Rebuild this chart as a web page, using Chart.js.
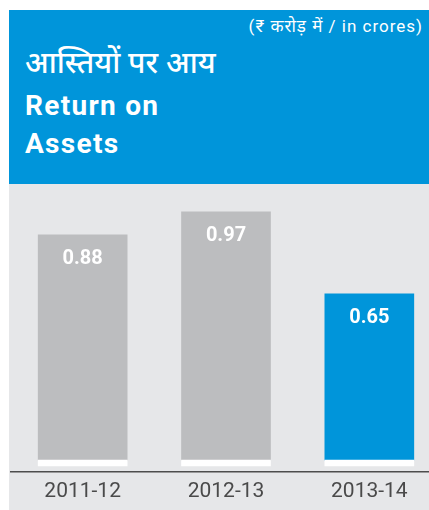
<!DOCTYPE html>
<html>
<head>
<meta charset="utf-8">
<script src="https://cdn.jsdelivr.net/npm/chart.js@4.4.1/dist/chart.umd.min.js"></script>
<style>
  body { margin: 0; background: #fff; width: 429px; height: 510px; overflow: hidden; }
  .panel { position: absolute; left: 9px; top: 10px; width: 420px; height: 500px; background: #E6E7E9; overflow: hidden; }
  .header { position: absolute; left: 0; top: 0; width: 420px; height: 174px; background: #0095DA; color: #fff; font-family: Roboto, 'Noto Sans', sans-serif; }
  .unit { position: absolute; right: 6px; top: 8px; font-size: 17px; line-height: 17px; letter-spacing: 1px; }
  .hindi { position: absolute; left: 16px; top: 34px; font-size: 30px; line-height: 36px; font-weight: 500; font-family: 'Noto Sans', sans-serif; }
  .title { position: absolute; left: 16px; font-size: 28px; line-height: 28px; font-weight: bold; letter-spacing: 1.3px; }
  .chart-box { position: absolute; left: 0; top: 174px; width: 420px; height: 326px; overflow: hidden; }
</style>
</head>
<body>
<div class="panel">
  <div class="header">
    <div class="unit">(₹ करोड़ में / in crores)</div>
    <div class="hindi">आस्तियों पर आय</div>
    <div class="title" style="top: 82px;">Return on</div>
    <div class="title" style="top: 120px;">Assets</div>
  </div>
  <div class="chart-box">
    <canvas id="roaChart" width="432" height="326"></canvas>
  </div>
</div>
<script>
// ===== DATOS =====
const categories = ['2011-12', '2012-13', '2013-14'];
const roaValues = [0.88, 0.97, 0.65];
const barColors = ['#BCBDBF', '#BCBDBF', '#0095DA'];
// franja blanca al pie de cada barra
const baseBand = [0.023, 0.023, 0.023];

// etiquetas blancas dentro de cada barra
const valueLabels = {
  id: 'valueLabels',
  afterDatasetsDraw(chart) {
    const ctx = chart.ctx;
    const meta = chart.getDatasetMeta(1);
    ctx.save();
    ctx.fillStyle = '#fff';
    ctx.font = 'bold 20px Roboto, sans-serif';
    ctx.textAlign = 'center';
    ctx.textBaseline = 'middle';
    meta.data.forEach((bar, i) => {
      ctx.fillText(roaValues[i].toFixed(2), bar.x, bar.y + 24);
    });
    ctx.restore();
  }
};

new Chart(document.getElementById('roaChart'), {
  type: 'bar',
  data: {
    labels: categories,
    datasets: [
      { label: 'base', data: baseBand, backgroundColor: '#fff', stack: 's', barThickness: 89 },
      { label: 'ROA', data: roaValues, backgroundColor: barColors, stack: 's', barThickness: 89 }
    ]
  },
  options: {
    responsive: false,
    animation: false,
    devicePixelRatio: 1,
    layout: { padding: { left: 2, right: 0, top: 0, bottom: 0 } },
    plugins: {
      legend: { display: false },
      tooltip: { enabled: false }
    },
    scales: {
      x: {
        stacked: true,
        grid: { display: false, drawTicks: false },
        border: { display: true, color: '#4d4d4d', width: 1.5 },
        ticks: {
          color: '#4a4a4a',
          padding: 7,
          font: { family: 'Roboto', size: 21, lineHeight: 1.2 }
        },
        afterFit(scale) { scale.height = 38; }
      },
      y: {
        stacked: true,
        display: false,
        min: -0.0234,
        max: 1.1016
      }
    }
  },
  plugins: [valueLabels]
});
</script>
</body>
</html>
